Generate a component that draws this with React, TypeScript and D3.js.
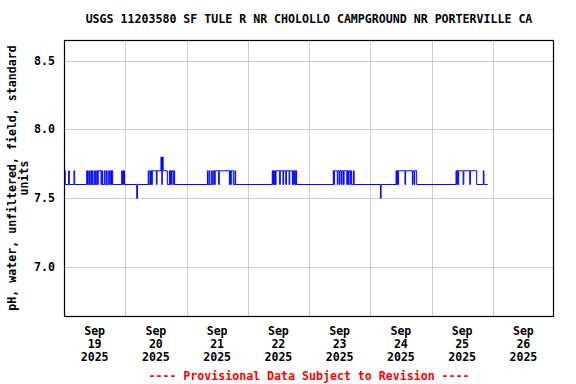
import React from "react";
import * as d3 from "d3";

const W = 576;
const H = 384;

const title = "USGS 11203580 SF TULE R NR CHOLOLLO CAMPGROUND NR PORTERVILLE CA";
const yLabelLines = ["pH, water, unfiltered, field, standard", "units"];
const footer = "---- Provisional Data Subject to Revision ----";

const startDate = new Date(2025, 8, 19, 0, 0);
const endDate = new Date(2025, 8, 27, 0, 0);
const dayTicks = ["19", "20", "21", "22", "23", "24", "25", "26"];
const monthLabel = "Sep";
const yearLabel = "2025";
const yTicks = [7.0, 7.5, 8.0, 8.5];
const yDomain = [6.645, 8.65];

// change points: [hours since Sep 19 00:00, pH value]
const changes: [number, number][] = [
  [0, 7.7], [0.5, 7.6], [1.8, 7.7], [2.1, 7.6], [3.9, 7.7], [4.2, 7.6],
  [8.9, 7.7], [9.2, 7.6], [9.7, 7.7], [10.0, 7.6], [10.5, 7.7], [10.8, 7.6],
  [11.1, 7.7], [11.4, 7.6], [12.0, 7.7], [12.3, 7.6], [12.8, 7.7], [13.2, 7.6],
  [13.4, 7.7], [14.5, 7.6], [14.8, 7.7], [15.1, 7.6], [15.8, 7.7], [16.1, 7.6],
  [16.6, 7.7], [16.9, 7.6], [17.5, 7.7], [17.9, 7.6], [18.3, 7.7], [18.6, 7.6],
  [18.8, 7.7], [19.1, 7.6], [22.6, 7.7], [22.9, 7.6], [23.3, 7.7], [23.7, 7.6],
  [28.5, 7.5], [28.8, 7.6],
  [33.0, 7.7], [33.25, 7.6], [33.7, 7.7], [33.95, 7.6], [34.1, 7.7], [34.35, 7.6],
  [34.6, 7.7], [36.2, 7.6], [36.45, 7.7], [38.0, 7.8], [38.2, 7.7], [38.35, 7.6],
  [38.5, 7.7], [38.6, 7.8], [38.85, 7.7], [40.5, 7.6], [41.3, 7.7], [41.55, 7.6],
  [41.8, 7.7], [42.05, 7.6], [42.3, 7.7], [42.8, 7.6], [43.1, 7.7], [43.35, 7.6],
  [56.2, 7.7], [56.45, 7.6], [56.9, 7.7], [57.15, 7.6], [57.85, 7.7], [58.1, 7.6],
  [58.5, 7.7], [59.0, 7.6], [59.25, 7.7], [60.6, 7.6], [60.85, 7.7], [64.8, 7.6],
  [65.05, 7.7], [65.3, 7.6], [65.55, 7.7], [66.35, 7.6], [67.0, 7.7], [67.25, 7.6],
  [81.6, 7.7], [81.85, 7.6], [82.1, 7.7], [82.35, 7.6], [82.6, 7.7], [82.85, 7.6],
  [83.1, 7.7], [84.5, 7.6], [84.75, 7.7], [85.8, 7.6], [86.05, 7.7], [86.9, 7.6],
  [87.15, 7.7], [88.2, 7.6], [88.45, 7.7], [89.5, 7.6], [89.75, 7.7], [90.0, 7.6],
  [90.25, 7.7], [90.6, 7.6], [90.85, 7.7], [91.15, 7.6],
  [105.5, 7.7], [105.75, 7.6], [106.0, 7.7], [107.1, 7.6], [107.35, 7.7], [107.9, 7.6],
  [108.15, 7.7], [108.7, 7.6], [108.95, 7.7], [109.5, 7.6], [109.75, 7.7], [110.8, 7.6],
  [111.05, 7.7], [111.3, 7.6], [111.55, 7.7], [112.05, 7.6], [112.3, 7.7], [112.7, 7.6],
  [113.4, 7.7], [113.7, 7.6],
  [124.0, 7.5], [124.25, 7.6],
  [130.1, 7.7], [130.35, 7.6], [130.6, 7.7], [130.85, 7.6], [131.1, 7.7], [133.6, 7.6],
  [133.85, 7.7], [136.5, 7.6], [136.75, 7.7], [137.2, 7.6], [137.45, 7.7], [138.2, 7.6],
  [153.6, 7.7], [153.85, 7.6], [154.1, 7.7], [154.4, 7.6], [154.65, 7.7], [156.4, 7.6],
  [156.65, 7.7], [159.0, 7.6], [159.25, 7.7], [161.7, 7.6], [164.3, 7.7], [164.55, 7.6],
  [166.0, 7.6],
];

const FONT = "'DejaVu Sans Mono', 'Liberation Mono', monospace";

export default function App() {
  const left = 64, right = 554, top = 40, bottom = 316;
  const x = d3.scaleTime().domain([startDate, endDate]).range([left, right]);
  const y = d3.scaleLinear().domain(yDomain).range([bottom, top]);
  const hourMs = 3600 * 1000;
  const toDate = (h: number) => new Date(startDate.getTime() + h * hourMs);

  const line = d3
    .line<[number, number]>()
    .x((d) => x(toDate(d[0])))
    .y((d) => y(d[1]))
    .curve(d3.curveStepAfter);

  const gridDays = d3.timeDay.range(d3.timeDay.offset(startDate, 1), endDate);
  const labelDays = dayTicks.map((_, i) => d3.timeHour.offset(startDate, i * 24 + 12));
  const cx = (left + right) / 2;
  const cy = (top + bottom) / 2;

  return (
    <svg
      width={W}
      height={H}
      style={{ position: "absolute", left: 0, top: 0, background: "#fff" }}
      fontFamily={FONT}
      fontWeight="bold"
      fontSize={11.6}
    >
      <rect x={0} y={0} width={W} height={H} fill="#fff" />
      {gridDays.map((d, i) => (
        <line key={"gx" + i} x1={Math.round(x(d)) + 0.5} x2={Math.round(x(d)) + 0.5} y1={top} y2={bottom} stroke="#cccccc" strokeWidth={1} />
      ))}
      {yTicks.map((v, i) => (
        <line key={"gy" + i} x1={left} x2={right} y1={Math.round(y(v)) + 0.5} y2={Math.round(y(v)) + 0.5} stroke="#cccccc" strokeWidth={1} />
      ))}
      <path d={line(changes) || ""} fill="none" stroke="#0000ff" strokeWidth={1} />
      <rect x={left + 0.5} y={top + 0.5} width={right - left - 1} height={bottom - top} fill="none" stroke="#000" strokeWidth={1.2} />
      {yTicks.map((v, i) => (
        <text key={"yt" + i} x={55} y={y(v) + 4} textAnchor="end" fill="#000">
          {v.toFixed(1)}
        </text>
      ))}
      {labelDays.map((d, i) => (
        <g key={"xl" + i} transform={`translate(${x(d)},0)`} textAnchor="middle" fill="#000">
          <text y={335}>{monthLabel}</text>
          <text y={348}>{dayTicks[i]}</text>
          <text y={361}>{yearLabel}</text>
        </g>
      ))}
      <text x={cx} y={23} textAnchor="middle" fill="#000">{title}</text>
      <g transform={`translate(16,${cy}) rotate(-90)`} textAnchor="middle" fill="#000">
        <text x={0} y={0}>{yLabelLines[0]}</text>
        <text x={0} y={12}>{yLabelLines[1]}</text>
      </g>
      <text x={cx} y={380} textAnchor="middle" fill="#ff0000">{footer}</text>
    </svg>
  );
}
